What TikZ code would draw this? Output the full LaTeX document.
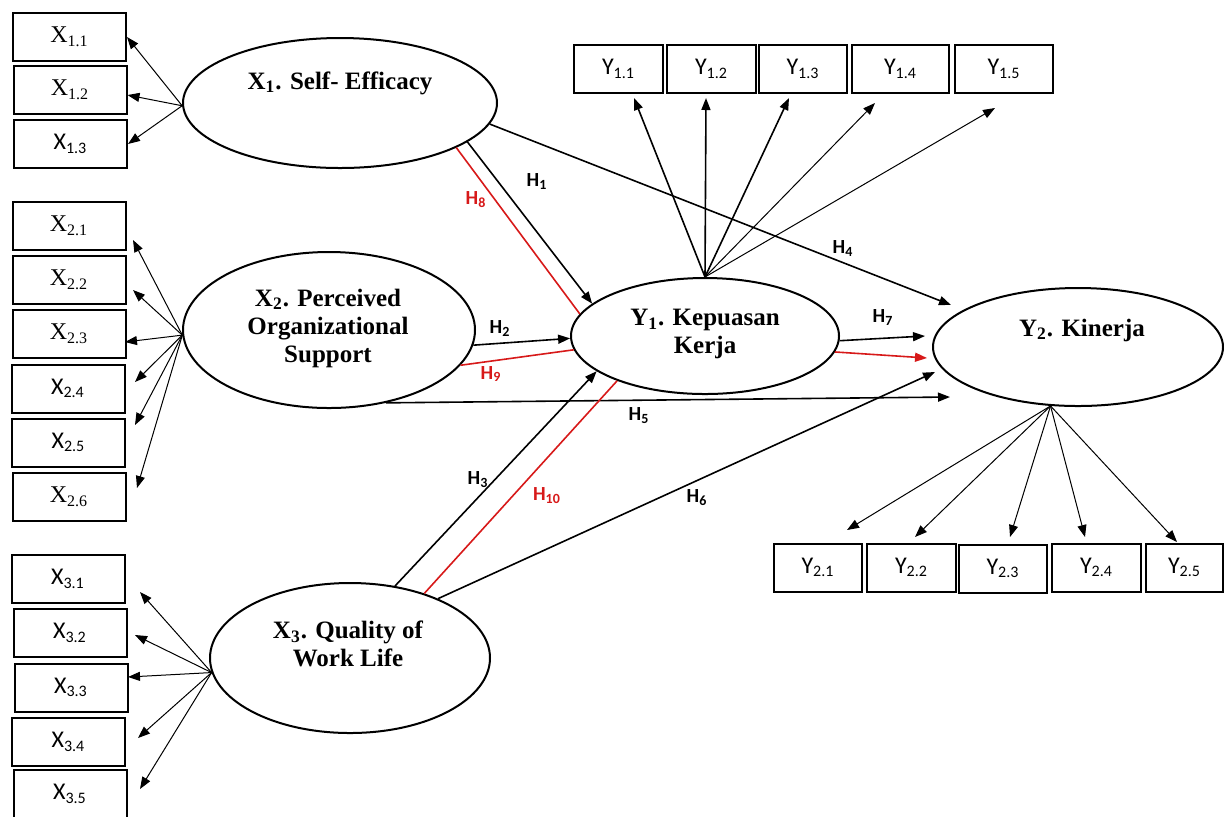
\documentclass[tikz,border=0pt]{standalone}
\usepackage{fontspec}
\setmainfont{Liberation Serif}
\newfontfamily\calibri{Carlito}
\usetikzlibrary{arrows.meta,shapes.geometric}
\definecolor{hred}{RGB}{215,25,25}
\tikzset{
  lv/.style={ellipse, draw, line width=1pt, inner sep=0pt},
  lvtext/.style={align=center, font=\bfseries\fontsize{12.5}{14}\selectfont},
  ind/.style={rectangle, draw, line width=1pt, inner sep=0pt, minimum height=24pt, minimum width=56.5pt, font=\fontsize{12}{14}\selectfont},
  indsans/.style={ind, font=\calibri\fontsize{12}{14}\selectfont},
  ldg/.style={-{Triangle[length=6pt,width=4.5pt]}, line width=0.5pt},
  hyp/.style={-{Triangle[length=6pt,width=4.5pt]}, line width=0.8pt},
  hypred/.style={hred, line width=0.8pt},
  hlab/.style={font=\calibri\bfseries\fontsize{10}{11}\selectfont}
}
\begin{document}
\begin{tikzpicture}[x=0.5pt,y=-0.5pt]
            \useasboundingbox (0,0) rectangle (1224,816);
            % latent variables
            \node[lv, minimum width=157pt, minimum height=65pt] (x1) at (340,103) {};
            \node[lv, minimum width=146pt, minimum height=78pt] (x2) at (329,330) {};
            \node[lv, minimum width=140pt, minimum height=75pt] (x3) at (350,658) {};
            \node[lv, minimum width=134pt, minimum height=58pt] (y1) at (705,336) {};
            \node[lv, minimum width=145pt, minimum height=59pt] (y2) at (1078,347) {};
            \node[lvtext] (x1t) at (340,83) {X\textsubscript{1}. Self- Efficacy};
            \node[lvtext] (x2t) at (328,328) {X\textsubscript{2}. Perceived\\Organizational\\Support};
            \node[lvtext] (x3t) at (348,644) {X\textsubscript{3}. Quality of\\Work Life};
            \node[lvtext] (y1t) at (705,334) {Y\textsubscript{1}. Kepuasan\\Kerja};
            \node[lvtext] (y2t) at (1082,330) {Y\textsubscript{2}. Kinerja};
            % indicators
            \node[ind] (x11) at (69.5,37) {X\textsubscript{1.1}};
            \node[ind] (x12) at (70,90) {X\textsubscript{1.2}};
            \node[indsans] (x13) at (70.5,144) {X\textsubscript{1.3}};
            \node[ind] (x21) at (69,226) {X\textsubscript{2.1}};
            \node[ind] (x22) at (69,280) {X\textsubscript{2.2}};
            \node[ind] (x23) at (69,333.5) {X\textsubscript{2.3}};
            \node[indsans] (x24) at (68,388.5) {X\textsubscript{2.4}};
            \node[indsans] (x25) at (68.5,442.5) {X\textsubscript{2.5}};
            \node[ind] (x26) at (69,497) {X\textsubscript{2.6}};
            \node[indsans] (x31) at (68,579) {X\textsubscript{3.1}};
            \node[indsans] (x32) at (70,633) {X\textsubscript{3.2}};
            \node[indsans] (x33) at (71,687.5) {X\textsubscript{3.3}};
            \node[indsans] (x34) at (68.5,742) {X\textsubscript{3.4}};
            \node[indsans] (x35) at (70,794) {X\textsubscript{3.5}};
            \node[indsans, minimum width=44.5pt] (y11) at (618.5,69) {Y\textsubscript{1.1}};
            \node[indsans, minimum width=44.5pt] (y12) at (711.5,69) {Y\textsubscript{1.2}};
            \node[indsans, minimum width=44pt] (y13) at (803,69) {Y\textsubscript{1.3}};
            \node[indsans, minimum width=48.5pt] (y14) at (900.5,69) {Y\textsubscript{1.4}};
            \node[indsans, minimum width=49pt] (y15) at (1004,69) {Y\textsubscript{1.5}};
            \node[indsans, minimum width=44pt] (y21) at (818,567.5) {Y\textsubscript{2.1}};
            \node[indsans, minimum width=44.5pt] (y22) at (911.5,567.5) {Y\textsubscript{2.2}};
            \node[indsans, minimum width=44pt] (y23) at (1003,568.5) {Y\textsubscript{2.3}};
            \node[indsans, minimum width=44.5pt] (y24) at (1096.5,567.5) {Y\textsubscript{2.4}};
            \node[indsans, minimum width=38.5pt] (y25) at (1184.5,567.5) {Y\textsubscript{2.5}};
            % free ends of the arrows
            \coordinate (a21) at (133,240);
            \coordinate (a22) at (133,290);
            \coordinate (a23) at (125,342);
            \coordinate (a24) at (135,382);
            \coordinate (a25) at (135,425);
            \coordinate (a26) at (137,488);
            \coordinate (a31) at (140,592);
            \coordinate (a32) at (135,635);
            \coordinate (a33) at (128,677);
            \coordinate (a34) at (138,738);
            \coordinate (a35) at (140,789);
            \coordinate (b11) at (634,98);
            \coordinate (b12) at (706,98);
            \coordinate (b13) at (789,98);
            \coordinate (b14) at (875,103);
            \coordinate (b15) at (995,108);
            \coordinate (c21) at (847,530);
            \coordinate (c22) at (915,537);
            \coordinate (c23) at (1010,537);
            \coordinate (c24) at (1085,537);
            \coordinate (c25) at (1177,542);
            \coordinate (h4end) at (951,305);
            \coordinate (h5end) at (950,397);
            \coordinate (h6end) at (935,372);
            \coordinate (h7end) at (925,336);
            \coordinate (h7rend) at (927,358);
            % loadings
            \draw[ldg] (x1.181) -- (x11.east);
            \draw[ldg] (x1.181) -- (x12.-5);
            \draw[ldg] (x1.181) -- (x13.east);
            \draw[ldg] (x2.182) -- (a21);
            \draw[ldg] (x2.182) -- (a22);
            \draw[ldg] (x2.182) -- (a23);
            \draw[ldg] (x2.182) -- (a24);
            \draw[ldg] (x2.182) -- (a25);
            \draw[ldg] (x2.182) -- (a26);
            \draw[ldg] (x3.186) -- (a31);
            \draw[ldg] (x3.186) -- (a32);
            \draw[ldg] (x3.186) -- (a33);
            \draw[ldg] (x3.186) -- (a34);
            \draw[ldg] (x3.186) -- (a35);
            \draw[hyp] (y1.north) -- (b11);
            \draw[hyp] (y1.north) -- (b12);
            \draw[hyp] (y1.north) -- (b13);
            \draw[ldg] (y1.north) -- (b14);
            \draw[ldg] (y1.north) -- (b15);
            \draw[ldg] (y2.245) -- (c21);
            \draw[ldg] (y2.245) -- (c22);
            \draw[ldg] (y2.245) -- (c23);
            \draw[ldg] (y2.245) -- (c24);
            \draw[ldg] (y2.245) -- (c25);
            % hypotheses
            \draw[hyp] (x1.-17) -- (y1.164);
            \draw[hypred] (x1.-21) -- (y1.170);
            \draw[hyp] (x1.-8) -- (h4end);
            \draw[hyp] (x2.-6) -- (y1.181);
            \draw[hypred] (x2.-15) -- (y1.186);
            \draw[hyp] (x2.-52) -- (h5end);
            \draw[hyp] (x3.58) -- (y1.198);
            \draw[hypred] (x3.41) -- (y1.207);
            \draw[hyp] (x3.34) -- (h6end);
            \draw[hyp] (y1.-2) -- (h7end);
            \draw[hyp, hred] (y1.-7) -- (h7rend);
            \node[hlab] (h1) at (537,182) {H\textsubscript{1}};
            \node[hlab] (h2) at (500,329) {H\textsubscript{2}};
            \node[hlab] (h3) at (478,480) {H\textsubscript{3}};
            \node[hlab] (h4) at (843,249) {H\textsubscript{4}};
            \node[hlab] (h5) at (639,416) {H\textsubscript{5}};
            \node[hlab] (h6) at (697,498) {H\textsubscript{6}};
            \node[hlab] (h7) at (883,318) {H\textsubscript{7}};
            \node[hlab, hred] (h8) at (476,200) {H\textsubscript{8}};
            \node[hlab, hred] (h9) at (491,374) {H\textsubscript{9}};
            \node[hlab, hred] (h10) at (547,496) {H\textsubscript{10}};
\end{tikzpicture}
\end{document}
